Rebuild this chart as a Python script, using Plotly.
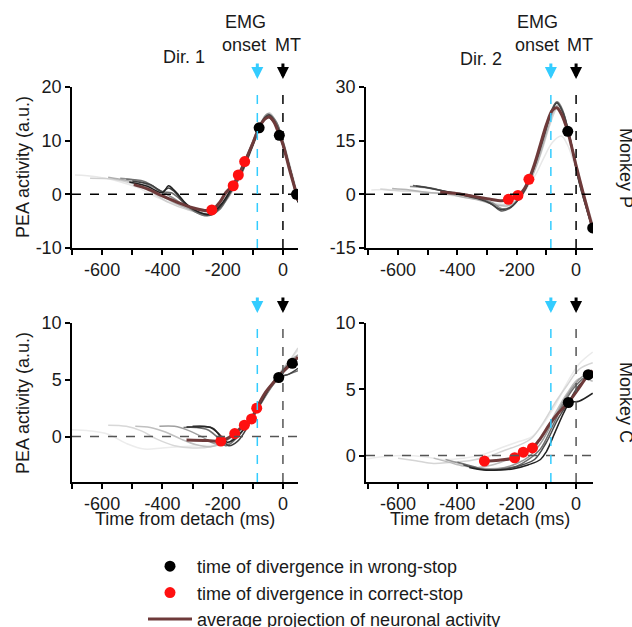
import plotly.graph_objects as go

# ---------------- data ----------------
EMG_ONSET = -85
MT = 0

x_tickvals = [-600, -400, -200, 0]
x_ticktext = ["-600", "-400", "-200", "0"]
ya_tickvals, ya_ticktext = [-10, 0, 10, 20], ["-10", "0", "10", "20"]
yb_tickvals, yb_ticktext = [-15, 0, 15, 30], ["-15", "0", "15", "30"]
yc_tickvals, yc_ticktext = [0, 5, 10], ["0", "5", "10"]

# Panel A: Monkey P, Dir. 1
pa_avg_t = [-495, -450, -400, -350, -300, -260, -235, -210, -190, -165, -148, -127, -100, -80, -60, -45, -30, -12, 0, 20, 45, 50]
pa_avg_v = [1.8, 1.0, -0.3, -1.5, -2.5, -3.0, -2.9, -1.5, 0.3, 1.8, 3.5, 6.0, 9.5, 12.3, 14.0, 14.4, 13.5, 11.0, 9.3, 5.0, 0.0, -1.2]
pa_red_t = [-236, -165, -148, -127]
pa_red_v = [-2.9, 1.6, 3.6, 6.1]
pa_blk_t = [-79, -12, 45]
pa_blk_v = [12.4, 11.0, 0.0]
pa_gray = [
    ("#e8e8e8", [-690, -620, -550, -480, -420, -350, -290, -250, -200, -150, -100, -60, -40, 0, 30, 50],
                [3.6, 3.3, 2.5, 1.2, -0.5, -2.0, -3.0, -3.2, -1.0, 3.0, 9.5, 14.5, 15.0, 9.5, 3.0, -1.5]),
    ("#d0d0d0", [-640, -560, -500, -440, -380, -320, -260, -220, -190, -150, -110, -70, -45, -20, 0, 30, 50],
                [3.0, 2.8, 2.0, 0.5, -1.5, -2.8, -3.5, -2.5, 0.0, 3.5, 8.5, 13.5, 15.2, 13.0, 10.0, 4.0, -0.5]),
    ("#b0b0b0", [-580, -520, -470, -420, -370, -310, -260, -220, -180, -140, -100, -70, -50, -20, 0, 25, 50],
                [3.2, 2.6, 1.8, 0.2, -1.3, -2.8, -3.8, -3.0, -0.5, 3.8, 9.3, 13.3, 14.8, 13.0, 9.2, 4.0, -1.5]),
    ("#909090", [-540, -480, -420, -370, -320, -260, -230, -190, -150, -110, -70, -50, -25, 0, 30, 50],
                [3.0, 2.5, 1.0, -0.5, -2.3, -3.9, -3.6, -1.0, 3.0, 8.5, 13.7, 15.0, 13.8, 10.0, 3.5, -1.0]),
    ("#707070", [-520, -460, -400, -370, -340, -290, -250, -210, -180, -140, -100, -70, -45, -20, 0, 30, 50],
                [2.8, 2.4, 0.5, 0.3, -1.0, -3.3, -4.0, -2.8, -0.2, 3.5, 9.0, 13.2, 14.8, 13.2, 9.8, 3.2, -1.0]),
    ("#404040", [-500, -440, -400, -380, -360, -330, -280, -240, -200, -170, -130, -90, -60, -45, -20, 0, 30, 50],
                [2.5, 1.8, 0.5, 1.2, 0.5, -1.5, -3.3, -3.8, -1.8, 0.8, 5.0, 11.0, 14.3, 14.8, 12.8, 9.5, 3.5, -1.0]),
    ("#202020", [-510, -450, -400, -380, -365, -345, -320, -270, -240, -200, -170, -140, -100, -70, -50, -20, 0, 30, 50],
                [2.3, 1.5, 0.3, 1.6, 1.0, -0.2, -1.8, -3.5, -3.6, -1.5, 1.2, 4.0, 9.2, 13.5, 14.4, 12.5, 9.0, 3.0, -1.5]),
]

# Panel B: Monkey P, Dir. 2
pb_avg_t = [-458, -400, -350, -300, -250, -228, -196, -175, -159, -140, -120, -100, -80, -65, -50, -28, 0, 25, 56]
pb_avg_v = [0.6, 0.2, -0.5, -1.2, -1.8, -1.5, -0.5, 1.5, 4.2, 8.5, 14.0, 19.5, 23.5, 24.2, 22.5, 17.5, 8.0, 0.0, -9.5]
pb_red_t = [-228, -196, -159]
pb_red_v = [-1.4, -0.3, 4.2]
pb_blk_t = [-28, 56]
pb_blk_v = [17.6, -9.4]
pb_gray = [
    ("#e8e8e8", [-690, -620, -550, -480, -400, -330, -270, -220, -180, -140, -110, -80, -50, -30, 0, 30, 56],
                [1.2, 1.3, 0.8, 0.3, -0.5, -1.2, -2.0, -1.5, 1.0, 5.0, 10.0, 14.5, 16.3, 14.0, 7.0, -1.0, -8.0]),
    ("#d5d5d5", [-660, -600, -530, -460, -390, -320, -260, -220, -180, -150, -120, -90, -70, -60, -40, -10, 20, 56],
                [1.5, 1.0, 0.8, 0.2, -0.3, -1.5, -2.8, -2.5, 0.0, 4.5, 11.0, 19.0, 23.5, 24.5, 21.5, 12.0, 2.0, -9.5]),
    ("#b5b5b5", [-620, -560, -500, -440, -380, -320, -270, -230, -195, -160, -130, -100, -80, -62, -45, -20, 10, 56],
                [1.6, 1.2, 0.5, 0.2, -0.8, -1.8, -3.0, -3.2, -1.5, 3.0, 9.0, 17.0, 22.5, 25.0, 23.0, 15.0, 4.0, -10.0]),
    ("#909090", [-560, -500, -440, -380, -320, -280, -250, -220, -190, -160, -130, -100, -80, -62, -45, -20, 10, 56],
                [2.2, 1.8, 0.8, 0.2, -1.0, -2.5, -4.0, -3.5, -1.0, 3.5, 10.0, 18.5, 23.8, 25.8, 23.5, 15.5, 4.0, -9.8]),
    ("#606060", [-550, -490, -430, -370, -320, -280, -255, -225, -195, -165, -135, -105, -80, -65, -45, -20, 10, 56],
                [2.5, 1.8, 0.6, -0.2, -1.2, -3.0, -4.6, -4.0, -1.5, 2.5, 9.0, 17.0, 24.0, 25.8, 23.2, 15.5, 3.5, -9.8]),
    ("#404040", [-540, -480, -420, -370, -320, -290, -255, -225, -195, -170, -140, -110, -85, -65, -45, -20, 10, 56],
                [2.3, 1.5, 0.5, -0.5, -1.5, -2.5, -4.2, -3.8, -1.5, 1.5, 8.0, 16.0, 22.5, 25.5, 23.0, 15.5, 3.5, -9.5]),
]

# Panel C: Monkey C, Dir. 1
pc_avg_t = [-320, -250, -206, -180, -160, -128, -104, -87, -60, -30, -14, 0, 31, 50]
pc_avg_v = [-0.3, -0.35, -0.4, -0.1, 0.3, 1.0, 1.6, 2.5, 3.8, 4.8, 5.3, 5.7, 6.5, 7.0]
pc_red_t = [-206, -160, -128, -104, -87]
pc_red_v = [-0.4, 0.26, 1.0, 1.55, 2.5]
pc_blk_t = [-14, 31]
pc_blk_v = [5.2, 6.45]
pc_gray = [
    ("#ececec", [-700, -640, -580, -520, -460, -400, -340, -280, -220, -180, -140, -100, -60, -20, 20, 50],
                [0.6, 0.5, 0.2, -0.6, -1.1, -1.0, -0.9, -0.8, -0.7, 0.0, 0.9, 2.0, 3.6, 5.2, 6.6, 7.6]),
    ("#d8d8d8", [-580, -520, -470, -420, -360, -300, -240, -200, -160, -120, -80, -40, 0, 30, 50],
                [1.0, 0.9, 0.5, -0.2, -0.8, -1.0, -0.9, -0.5, 0.3, 1.3, 2.8, 4.5, 6.0, 7.0, 7.8]),
    ("#c0c0c0", [-490, -440, -390, -340, -290, -240, -200, -160, -120, -80, -40, 0, 30, 50],
                [0.9, 0.8, 0.4, -0.2, -0.7, -0.9, -0.6, 0.2, 1.2, 2.6, 4.3, 5.8, 6.6, 6.8]),
    ("#a0a0a0", [-410, -360, -310, -270, -230, -190, -150, -110, -80, -40, 0, 30, 50],
                [0.9, 0.9, 0.5, 0.0, -0.6, -0.7, 0.3, 1.4, 2.7, 4.4, 5.9, 6.8, 7.2]),
    ("#707070", [-330, -290, -250, -220, -190, -160, -120, -80, -40, -10, 20, 50],
                [0.8, 0.8, 0.6, 0.0, -0.8, -0.3, 1.0, 2.6, 4.3, 5.2, 5.5, 5.8]),
    ("#404040", [-300, -260, -230, -200, -180, -150, -110, -75, -40, -14, 20, 50],
                [0.9, 0.9, 0.7, -0.3, -0.8, -0.4, 1.2, 2.9, 4.5, 5.2, 5.5, 6.0]),
    ("#252525", [-320, -280, -240, -215, -185, -160, -120, -80, -40, 0, 31, 50],
                [0.85, 0.85, 0.8, 0.3, -0.5, -0.2, 1.0, 2.7, 4.5, 5.8, 6.5, 6.3]),
]

# Panel D: Monkey C, Dir. 2
pd_avg_t = [-309, -260, -207, -178, -147, -120, -88, -60, -26, 10, 41, 56]
pd_avg_v = [-0.42, -0.35, -0.17, 0.25, 0.57, 1.3, 2.4, 3.2, 4.0, 5.1, 6.1, 6.4]
pd_red_t = [-309, -207, -178, -147]
pd_red_v = [-0.42, -0.17, 0.25, 0.57]
pd_blk_t = [-26, 41]
pd_blk_v = [4.0, 6.1]
pd_gray = [
    ("#ebebeb", [-720, -650, -580, -510, -450, -380, -310, -250, -200, -150, -110, -70, -30, 10, 56],
                [-0.3, -0.1, 0.0, -0.1, -0.3, -0.2, 0.1, 0.6, 1.0, 1.4, 2.4, 3.8, 5.5, 6.9, 7.8]),
    ("#d5d5d5", [-600, -540, -480, -420, -360, -300, -240, -190, -150, -110, -70, -30, 10, 56],
                [-0.2, -0.4, -0.6, -0.5, -0.4, -0.1, 0.4, 0.8, 1.3, 2.5, 4.0, 5.3, 6.5, 7.0]),
    ("#bdbdbd", [-480, -430, -380, -330, -280, -230, -190, -150, -110, -70, -30, 10, 56],
                [-0.2, -0.5, -0.8, -0.9, -0.7, -0.3, 0.0, 0.5, 1.5, 3.2, 4.7, 5.8, 5.6]),
    ("#9a9a9a", [-440, -390, -340, -290, -240, -200, -160, -120, -80, -40, 0, 30, 56],
                [-0.3, -0.6, -0.9, -1.0, -0.9, -0.6, -0.1, 0.9, 2.5, 4.2, 5.5, 6.1, 6.3]),
    ("#707070", [-400, -350, -300, -250, -200, -160, -120, -80, -40, 0, 30, 56],
                [-0.5, -0.8, -1.1, -1.0, -0.8, -0.3, 0.5, 2.2, 4.0, 5.3, 5.9, 6.0]),
    ("#4a4a4a", [-380, -330, -280, -230, -180, -140, -100, -60, -26, 10, 56],
                [-0.7, -1.0, -1.1, -1.0, -0.7, -0.3, 1.0, 2.8, 4.0, 5.3, 6.2]),
    ("#222222", [-360, -310, -260, -210, -160, -120, -100, -70, -40, -20, 10, 56],
                [-0.9, -1.1, -1.1, -1.0, -0.7, -0.3, 0.3, 1.8, 3.3, 4.0, 4.1, 4.7]),
]

panels = [
    dict(ax="", gray=pa_gray, avg=(pa_avg_t, pa_avg_v), red=(pa_red_t, pa_red_v), blk=(pa_blk_t, pa_blk_v)),
    dict(ax="2", gray=pb_gray, avg=(pb_avg_t, pb_avg_v), red=(pb_red_t, pb_red_v), blk=(pb_blk_t, pb_blk_v)),
    dict(ax="3", gray=pc_gray, avg=(pc_avg_t, pc_avg_v), red=(pc_red_t, pc_red_v), blk=(pc_blk_t, pc_blk_v)),
    dict(ax="4", gray=pd_gray, avg=(pd_avg_t, pd_avg_v), red=(pd_red_t, pd_red_v), blk=(pd_blk_t, pd_blk_v)),
]

legend_labels = ["time of divergence in wrong-stop",
                 "time of divergence in correct-stop",
                 "average projection of neuronal activity"]

# ---------------- figure ----------------
W, H = 632, 627
BROWN = "#6e3a3a"
CYAN = "#33ccff"
FONT = "Liberation Sans, Arial, sans-serif"
TXT = "#1a1a1a"
FS = 18


def px_x(p):
    return p / W


def px_y(p):
    return 1 - p / H


fig = go.Figure()

for i, p in enumerate(panels):
    xa = "x" + p["ax"]
    ya = "y" + p["ax"]
    for col, t, v in p["gray"]:
        fig.add_trace(go.Scatter(x=t, y=v, mode="lines", line=dict(color=col, width=1.5, shape="spline", smoothing=1.0),
                                 xaxis=xa, yaxis=ya, showlegend=False, hoverinfo="skip"))
    fig.add_trace(go.Scatter(x=p["avg"][0], y=p["avg"][1], mode="lines",
                             line=dict(color=BROWN, width=3, shape="spline", smoothing=1.0),
                             xaxis=xa, yaxis=ya, name=legend_labels[2], legendgroup="c", legendrank=3,
                             showlegend=(i == 0)))
    fig.add_trace(go.Scatter(x=p["red"][0], y=p["red"][1], mode="markers",
                             marker=dict(color="#ff1010", size=11),
                             xaxis=xa, yaxis=ya, name=legend_labels[1], legendgroup="b", legendrank=2,
                             showlegend=(i == 0)))
    fig.add_trace(go.Scatter(x=p["blk"][0], y=p["blk"][1], mode="markers",
                             marker=dict(color="#000000", size=11),
                             xaxis=xa, yaxis=ya, name=legend_labels[0], legendgroup="a", legendrank=1,
                             showlegend=(i == 0)))

left_dom = [px_x(72), px_x(298)]
right_dom = [px_x(366), px_x(593)]
top_dom = [px_y(248), px_y(87)]
bot_dom = [px_y(482), px_y(323)]

tickfont = dict(size=FS, color=TXT, family=FONT)
common_x = dict(showline=True, linecolor="black", linewidth=1.5, ticks="outside", ticklen=5, tickwidth=1.5,
                tickcolor="black", showgrid=False, zeroline=False,
                tickmode="array", tickvals=x_tickvals, ticktext=x_ticktext,
                minor=dict(ticks="outside", dtick=100, tick0=0, ticklen=5, tickwidth=1.5, tickcolor="black", showgrid=False),
                tickfont=tickfont)
common_y = dict(showline=True, linecolor="black", linewidth=1.5, ticks="outside", ticklen=5, tickwidth=1.5,
                tickcolor="black", showgrid=False, zeroline=False, tickmode="array", tickfont=tickfont)

fig.update_layout(
    width=W, height=H, margin=dict(l=0, r=0, t=0, b=0, autoexpand=False),
    paper_bgcolor="white", plot_bgcolor="white",
    font=dict(family=FONT, size=FS, color=TXT),
    xaxis=dict(domain=left_dom, range=[-700, 50], anchor="y", **common_x),
    yaxis=dict(domain=top_dom, range=[-10, 20], tickvals=ya_tickvals, ticktext=ya_ticktext, anchor="x", **common_y),
    xaxis2=dict(domain=right_dom, range=[-708, 57], anchor="y2", **common_x),
    yaxis2=dict(domain=top_dom, range=[-15, 30], tickvals=yb_tickvals, ticktext=yb_ticktext, anchor="x2", **common_y),
    xaxis3=dict(domain=left_dom, range=[-700, 50], anchor="y3", **common_x),
    yaxis3=dict(domain=bot_dom, range=[-4, 10], tickvals=yc_tickvals, ticktext=yc_ticktext, anchor="x3", **common_y),
    xaxis4=dict(domain=right_dom, range=[-708, 57], anchor="y4", **common_x),
    yaxis4=dict(domain=bot_dom, range=[-2, 10], tickvals=yc_tickvals, ticktext=yc_ticktext, anchor="x4", **common_y),
    showlegend=True,
    legend=dict(x=px_x(143), y=px_y(548), xanchor="left", yanchor="top", bgcolor="rgba(0,0,0,0)",
                font=dict(size=FS, color=TXT, family=FONT), tracegroupgap=0, itemwidth=44),
)

shapes = []
annotations = []
for i, p in enumerate(panels):
    xa = "x" + p["ax"]
    ya = "y" + p["ax"]
    zc = "black" if i < 2 else "#555555"
    shapes.append(dict(type="line", xref=xa + " domain", yref=ya, x0=0, x1=1, y0=0, y1=0,
                       line=dict(color=zc, width=1.5, dash="dash")))
    shapes.append(dict(type="line", xref=xa, yref=ya + " domain", x0=EMG_ONSET, x1=EMG_ONSET, y0=0, y1=1,
                       line=dict(color=CYAN, width=1.5, dash="dash")))
    shapes.append(dict(type="line", xref=xa, yref=ya + " domain", x0=MT, x1=MT, y0=0, y1=1,
                       line=dict(color=zc, width=1.5, dash="dash")))
    tip = px_y(79) if i < 2 else px_y(313)
    for xv, c in ((EMG_ONSET, CYAN), (MT, "black")):
        annotations.append(dict(x=xv, y=tip, xref=xa, yref="paper", text="", showarrow=True,
                                ax=0, ay=-17, arrowhead=2, arrowsize=0.8, arrowwidth=3, arrowcolor=c))


def txt(s, x, y, angle=0):
    annotations.append(dict(text=s, x=x, y=y, xref="paper", yref="paper", showarrow=False,
                            xanchor="center", yanchor="middle", textangle=angle,
                            font=dict(size=FS, color=TXT, family=FONT)))


txt("Dir. 1", px_x(184), px_y(57))
txt("EMG", px_x(245), px_y(22))
txt("onset", px_x(244), px_y(45))
txt("MT", px_x(288), px_y(45))
txt("Dir. 2", px_x(481), px_y(59))
txt("EMG", px_x(537), px_y(22))
txt("onset", px_x(537), px_y(45))
txt("MT", px_x(580), px_y(45))
txt("PEA activity (a.u.)", px_x(23), px_y(167), angle=-90)
txt("PEA activity (a.u.)", px_x(23), px_y(403), angle=-90)
txt("Time from detach (ms)", px_x(185), px_y(519))
txt("Time from detach (ms)", px_x(480), px_y(519))
txt("Monkey P", px_x(626), px_y(168), angle=90)
txt("Monkey C", px_x(626), px_y(402), angle=90)

fig.update_layout(shapes=shapes, annotations=annotations)

fig.write_html("out.html", config={"displayModeBar": False},
               post_script="document.body.style.margin='0';document.body.style.overflow='hidden';")
